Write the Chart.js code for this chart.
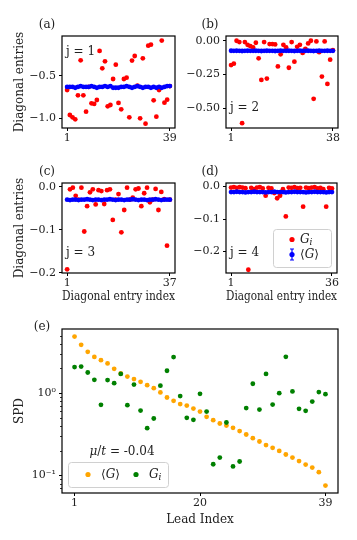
<!DOCTYPE html>
<html>
<head>
<meta charset="utf-8">
<script src="https://cdn.jsdelivr.net/npm/chart.js@4.4.0/dist/chart.umd.min.js"></script>
<style>
  html, body { margin: 0; padding: 0; background: #fff; }
  #fig { position: relative; width: 357px; height: 540px; overflow: hidden; }
  #fig canvas { position: absolute; }
</style>
</head>
<body>
<div id="fig">
  <canvas id="chartA" width="182" height="138" style="left:0px;top:10px"></canvas>
  <canvas id="chartB" width="177" height="138" style="left:180px;top:10px"></canvas>
  <canvas id="chartC" width="182" height="155" style="left:0px;top:155px"></canvas>
  <canvas id="chartD" width="177" height="155" style="left:180px;top:155px"></canvas>
  <canvas id="chartE" width="357" height="227" style="left:0px;top:313px"></canvas>
</div>
<script>
// Datos: entradas diagonales G_i (rojo) y promedio <G> (azul)
const redA = [-0.667, -0.964, -0.992, -1.016, -0.730, -0.313, -0.730, -0.925, -0.630, -0.825,
              -0.833, -0.786, -0.202, -0.409, -0.325, -0.861, -0.845, -0.536, -0.365, -0.821,
              -0.897, -0.536, -0.520, -0.992, -0.317, -0.262, -0.615, -1.004, -0.290, -1.067,
              -0.139, -0.127, -0.790, -0.984, -0.667, -0.079, -0.817, -0.782, -0.620];
const blueA = [-0.63, -0.63, -0.63, -0.64, -0.63, -0.62, -0.63, -0.63, -0.63, -0.62,
               -0.63, -0.64, -0.63, -0.63, -0.62, -0.63, -0.62, -0.64, -0.64, -0.64,
               -0.63, -0.63, -0.62, -0.63, -0.64, -0.63, -0.62, -0.63, -0.64, -0.63,
               -0.63, -0.64, -0.63, -0.64, -0.63, -0.64, -0.63, -0.62, -0.62];

const redB = [-0.18, -0.17, 0.00, -0.01, -0.61, -0.01, -0.03, -0.04, -0.05, -0.015,
              -0.13, -0.29, -0.01, -0.28, -0.025, -0.025, -0.027, -0.19, -0.10, -0.03,
              -0.05, -0.20, -0.01, -0.155, -0.045, -0.03, -0.09, -0.06, -0.02, 0.00,
              -0.43, -0.005, -0.085, -0.265, -0.005, -0.32, -0.14, -0.07];
const blueB = [-0.074, -0.075, -0.074, -0.075, -0.076, -0.075, -0.074, -0.075, -0.075, -0.074,
               -0.075, -0.076, -0.075, -0.074, -0.075, -0.075, -0.076, -0.075, -0.074, -0.075,
               -0.075, -0.074, -0.075, -0.076, -0.075, -0.074, -0.075, -0.075, -0.074, -0.075,
               -0.076, -0.075, -0.074, -0.075, -0.075, -0.074, -0.075, -0.075];

const redC = [-0.192, -0.006, -0.002, -0.021, -0.030, -0.002, -0.104, -0.045, -0.013, -0.006,
              -0.041, -0.008, -0.010, -0.040, -0.008, -0.006, -0.077, -0.030, -0.017, -0.106,
              -0.054, -0.002, -0.030, -0.025, -0.006, -0.004, -0.045, -0.015, -0.002, -0.036,
              -0.030, -0.005, -0.054, -0.012, -0.029, -0.137, -0.030];
const blueC = [-0.030, -0.031, -0.030, -0.030, -0.031, -0.030, -0.030, -0.029, -0.030, -0.031,
               -0.030, -0.030, -0.031, -0.030, -0.030, -0.029, -0.030, -0.031, -0.030, -0.030,
               -0.031, -0.030, -0.030, -0.029, -0.030, -0.031, -0.030, -0.030, -0.031, -0.030,
               -0.030, -0.029, -0.030, -0.031, -0.030, -0.030, -0.030];

const redD = [-0.003, -0.002, -0.004, -0.002, -0.003, -0.005, -0.256, -0.004, -0.008, -0.003,
              -0.002, -0.006, -0.028, -0.004, -0.006, -0.020, -0.036, -0.028, -0.008, -0.092,
              -0.003, -0.004, -0.002, -0.005, -0.004, -0.062, -0.003, -0.005, -0.003, -0.002,
              -0.006, -0.004, -0.008, -0.062, -0.004, -0.006];
const blueD = [-0.017, -0.017, -0.016, -0.017, -0.017, -0.018, -0.017, -0.017, -0.016, -0.017,
               -0.017, -0.017, -0.018, -0.017, -0.017, -0.016, -0.017, -0.017, -0.017, -0.018,
               -0.017, -0.017, -0.016, -0.017, -0.017, -0.017, -0.018, -0.017, -0.017, -0.016,
               -0.017, -0.017, -0.017, -0.018, -0.017, -0.017];

// SPD por lead
const spdMean = [4.86, 3.86, 3.17, 2.75, 2.51, 2.29, 1.97, 1.73, 1.59, 1.48,
                 1.37, 1.25, 1.15, 1.02, 0.885, 0.807, 0.736, 0.707, 0.650, 0.598,
                 0.516, 0.470, 0.428, 0.404, 0.379, 0.346, 0.315, 0.284, 0.259, 0.234,
                 0.217, 0.199, 0.180, 0.165, 0.150, 0.136, 0.125, 0.110, 0.0756];
const spdGi = [2.07, 2.10, 1.78, 1.45, 0.721, 1.44, 1.32, 1.71, 0.715, 1.27,
               0.615, 0.376, 0.492, 1.23, 1.87, 2.74, 0.92, 0.501, 0.474, 0.98,
               0.598, 0.137, 0.165, 0.44, 0.129, 0.148, 0.658, 1.30, 0.632, 1.71,
               0.727, 1.00, 2.76, 1.05, 0.645, 0.61, 0.79, 1.03, 0.97];

const ticksA = [1, 39];
const ticksB = [1, 38];
const ticksC = [1, 37];
const ticksD = [1, 36];
const ticksE = [1, 20, 39];
const yTicksA = [-1.0, -0.5];
const yTicksB = [-0.50, -0.25, 0.00];
const yTicksC = [-0.2, -0.1, 0.0];
const yTicksE = [0.1, 1];
const minorE = [0.07, 0.08, 0.09, 0.2, 0.3, 0.4, 0.5, 0.6, 0.7, 0.8, 0.9, 2, 3, 4, 5];

const FONT = "'DejaVu Serif', serif";
Chart.defaults.font.family = FONT;
Chart.defaults.font.size = 11;
Chart.defaults.color = '#222';
Chart.defaults.animation = false;

function pts(vals) {
    return vals.map((v, i) => ({ x: i + 1, y: v }));
}

function ds(vals, color, order) {
    return {
        data: pts(vals),
        backgroundColor: color,
        borderWidth: 0,
        pointRadius: 2.4,
        pointHoverRadius: 2.4,
        order: order
    };
}

function minus(s) {
    return s.replace('-', '\u2212');
}

// texto con cursiva / subindice
function drawRich(ctx, parts, x, y) {
    parts.forEach(p => {
        const size = p.sub ? 9 : 12;
        ctx.font = (p.it ? 'italic ' : '') + size + 'px ' + FONT;
        ctx.fillText(p.t, x, y + (p.sub ? 3 : 0));
        x += ctx.measureText(p.t).width;
    });
    return x;
}

function richWidth(ctx, parts) {
    let w = 0;
    parts.forEach(p => {
        ctx.font = (p.it ? 'italic ' : '') + (p.sub ? 9 : 12) + 'px ' + FONT;
        w += ctx.measureText(p.t).width;
    });
    return w;
}

const GI = [{ t: 'G', it: true }, { t: 'i', it: true, sub: true }];
const GMEAN = [{ t: '\u27E8' }, { t: 'G', it: true }, { t: '\u27E9' }];

function legendBox(ctx, x, y, w, h) {
    ctx.beginPath();
    ctx.roundRect(x + 0.5, y + 0.5, w, h, 3);
    ctx.fillStyle = 'rgba(255,255,255,0.8)';
    ctx.fill();
    ctx.strokeStyle = '#d0d0d0';
    ctx.lineWidth = 1;
    ctx.stroke();
}

function dot(ctx, x, y, color) {
    ctx.beginPath();
    ctx.arc(x, y, 2.6, 0, Math.PI * 2);
    ctx.fillStyle = color;
    ctx.fill();
}

const decor = {
    id: 'decor',
    afterDraw(chart, args, o) {
        const ctx = chart.ctx, a = chart.chartArea;
        ctx.save();
        ctx.strokeStyle = '#000';
        ctx.lineWidth = 1.2;
        ctx.strokeRect(a.left, a.top, a.right - a.left, a.bottom - a.top);

        if (o.minor) {
            const s = chart.scales.y;
            ctx.lineWidth = 0.8;
            ctx.beginPath();
            o.minor.forEach(v => {
                const y = Math.round(s.getPixelForValue(v)) + 0.5;
                ctx.moveTo(a.left - 2, y);
                ctx.lineTo(a.left, y);
            });
            ctx.stroke();
        }

        ctx.fillStyle = '#222';
        ctx.textBaseline = 'middle';
        ctx.font = '12px ' + FONT;
        ctx.textAlign = 'center';
        ctx.fillText(o.label, a.left + o.labelDx, a.top + o.labelDy);

        ctx.textAlign = 'left';
        if (o.j) {
            ctx.font = '12px ' + FONT;
            ctx.fillText(o.j, a.left + 4, o.jTop ? a.top + 16 : a.bottom - 20);
        }

        if (o.legend === 'd') {
            const x0 = a.right - 64, y0 = a.bottom - 44;
            legendBox(ctx, x0, y0, 58, 38);
            dot(ctx, x0 + 19, y0 + 10.5, '#ff0000');
            ctx.fillStyle = '#222';
            drawRich(ctx, GI, x0 + 27, y0 + 10.5);
            // marcador con barra de error
            ctx.strokeStyle = '#0000ff';
            ctx.lineWidth = 1.2;
            ctx.beginPath();
            ctx.moveTo(x0 + 19, y0 + 20); ctx.lineTo(x0 + 19, y0 + 31);
            ctx.moveTo(x0 + 17, y0 + 20); ctx.lineTo(x0 + 21, y0 + 20);
            ctx.moveTo(x0 + 17, y0 + 31); ctx.lineTo(x0 + 21, y0 + 31);
            ctx.stroke();
            dot(ctx, x0 + 19, y0 + 25.5, '#0000ff');
            ctx.fillStyle = '#222';
            drawRich(ctx, GMEAN, x0 + 27, y0 + 25.5);
        }

        if (o.legend === 'e') {
            const x0 = a.left + 6, y0 = a.bottom - 31;
            legendBox(ctx, x0, y0, 100, 25);
            dot(ctx, x0 + 20, y0 + 12.5, '#ffa500');
            ctx.fillStyle = '#222';
            drawRich(ctx, GMEAN, x0 + 33, y0 + 12.5);
            dot(ctx, x0 + 68, y0 + 12.5, '#008000');
            ctx.fillStyle = '#222';
            drawRich(ctx, GI, x0 + 81, y0 + 12.5);

            const mu = [{ t: '\u03BC', it: true }, { t: '/' }, { t: 't', it: true }, { t: ' = -0.04' }];
            const w = richWidth(ctx, mu);
            drawRich(ctx, mu, a.left + 60 - w / 2, a.bottom - 41.5);
        }
        ctx.restore();
    }
};

function panel(id, box, cfg) {
    const cv = document.getElementById(id);
    const cx = parseFloat(cv.style.left), cy = parseFloat(cv.style.top);
    const yW = box.l - cx;
    const xH = cy + cv.height - box.b;
    return new Chart(cv, {
        type: 'scatter',
        data: { datasets: cfg.datasets },
        options: {
            responsive: false,
            layout: {
                padding: { left: 0, top: box.t - cy, right: cx + cv.width - box.r, bottom: 0 }
            },
            plugins: {
                legend: { display: false },
                tooltip: { enabled: false },
                decor: cfg.decor
            },
            scales: {
                x: {
                    type: 'linear',
                    min: cfg.xMin,
                    max: cfg.xMax,
                    afterBuildTicks: s => { s.ticks = cfg.xTicks.map(v => ({ value: v })); },
                    afterFit: s => { s.height = xH; s.paddingLeft = 0; s.paddingRight = 0; },
                    ticks: {
                        padding: 1,
                        maxRotation: 0,
                        autoSkip: false,
                        font: { size: 11 },
                        callback: v => String(v)
                    },
                    grid: { drawOnChartArea: false, tickLength: 3, color: '#000' },
                    border: { display: false },
                    title: {
                        display: !!cfg.xTitle,
                        text: cfg.xTitle || '',
                        font: { size: 12 },
                        padding: { top: 0, bottom: cfg.xTitle ? (box.b + xH) - cfg.xTitleY - 7.2 : 0 }
                    }
                },
                y: {
                    type: cfg.yLog ? 'logarithmic' : 'linear',
                    min: cfg.yMin,
                    max: cfg.yMax,
                    afterBuildTicks: s => { s.ticks = cfg.yTicks.map(v => ({ value: v })); },
                    afterFit: s => { s.width = yW; s.paddingTop = 0; s.paddingBottom = 0; },
                    ticks: {
                        padding: 3,
                        autoSkip: false,
                        font: { size: 11 },
                        callback: cfg.yFmt
                    },
                    grid: { drawOnChartArea: false, tickLength: 3, color: '#000' },
                    border: { display: false },
                    title: {
                        display: !!cfg.yTitle,
                        text: cfg.yTitle || '',
                        font: { size: 12 },
                        padding: { top: 12.8, bottom: 0 }
                    }
                }
            }
        },
        plugins: [decor]
    });
}

// (a)
panel('chartA', { l: 62, t: 36, r: 175, b: 128 }, {
    datasets: [ds(redA, '#ff0000', 1), ds(blueA, '#0000ff', 0)],
    xMin: -0.9, xMax: 40.9, xTicks: ticksA,
    yMin: -1.119, yMax: -0.024, yTicks: yTicksA,
    yFmt: v => minus(v.toFixed(1)),
    yTitle: 'Diagonal entries',
    decor: { label: '(a)', labelDx: -15, labelDy: -11, j: 'j = 1', jTop: true }
});

// (b)
panel('chartB', { l: 226, t: 36, r: 338, b: 128 }, {
    datasets: [ds(redB, '#ff0000', 1), ds(blueB, '#0000ff', 0)],
    xMin: -0.85, xMax: 39.85, xTicks: ticksB,
    yMin: -0.646, yMax: 0.035, yTicks: yTicksB,
    yFmt: v => minus(v.toFixed(2)),
    decor: { label: '(b)', labelDx: -16, labelDy: -11, j: 'j = 2', jTop: false }
});

// (c)
panel('chartC', { l: 62, t: 183, r: 175, b: 273 }, {
    datasets: [ds(redC, '#ff0000', 1), ds(blueC, '#0000ff', 0)],
    xMin: -0.8, xMax: 38.8, xTicks: ticksC,
    yMin: -0.2005, yMax: 0.0088, yTicks: yTicksC,
    yFmt: v => minus(v.toFixed(1)),
    yTitle: 'Diagonal entries',
    xTitle: 'Diagonal entry index', xTitleY: 297,
    decor: { label: '(c)', labelDx: -15, labelDy: -11, j: 'j = 3', jTop: false }
});

// (d)
panel('chartD', { l: 226, t: 183, r: 337, b: 273 }, {
    datasets: [ds(redD, '#ff0000', 1), ds(blueD, '#0000ff', 0)],
    xMin: -0.75, xMax: 37.75, xTicks: ticksD,
    yMin: -0.266, yMax: 0.011, yTicks: yTicksC,
    yFmt: v => minus(v.toFixed(1)),
    xTitle: 'Diagonal entry index', xTitleY: 297,
    decor: { label: '(d)', labelDx: -16, labelDy: -11, j: 'j = 4', jTop: false, legend: 'd' }
});

// (e) SPD en escala log
panel('chartE', { l: 62, t: 329, r: 338, b: 493 }, {
    datasets: [ds(spdMean, '#ffa500', 1), ds(spdGi, '#008000', 0)],
    xMin: -0.9, xMax: 40.9, xTicks: ticksE,
    yLog: true,
    yMin: 0.0614, yMax: 6.0, yTicks: yTicksE,
    yFmt: v => (v === 1 ? '10\u2070' : '10\u207B\u00B9'),
    yTitle: 'SPD',
    xTitle: 'Lead Index', xTitleY: 520,
    decor: { label: '(e)', labelDx: -20, labelDy: -2, legend: 'e', minor: minorE }
});
</script>
</body>
</html>
